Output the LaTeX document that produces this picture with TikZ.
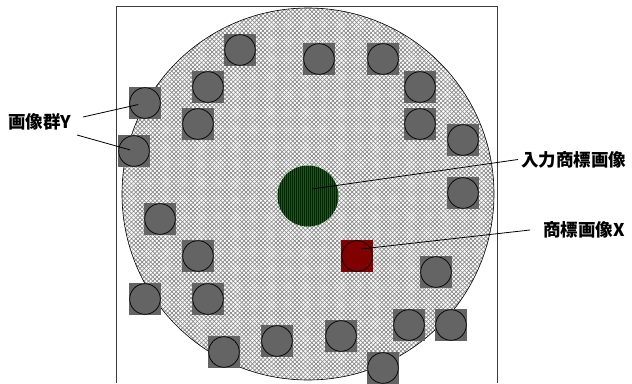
\documentclass[tikz,border=0pt]{standalone}
\usepackage{fontspec}
\newfontfamily\jpfont{Noto Sans CJK JP}
\usetikzlibrary{patterns.meta}
\definecolor{itemgray}{RGB}{100,100,100}
\definecolor{hatchgray}{RGB}{135,135,135}
\definecolor{logogreen}{RGB}{0,105,0}
\definecolor{stripegreen}{RGB}{0,40,0}
\definecolor{logored}{RGB}{128,0,0}
\definecolor{framegray}{RGB}{60,60,60}

\tikzset{
    item/.style={
        rectangle, fill=itemgray, minimum size=32pt, inner sep=0pt,
        path picture={\draw[line width=0.7pt, fill=itemgray]
            (path picture bounding box.center) circle (15.3pt);}
    },
    txt/.style={
        anchor=west, inner sep=0pt,
        font=\jpfont\bfseries\fontsize{17.5}{20}\selectfont
    },
    leader/.style={
        line width=0.8pt, black
    }
}

\begin{document}
\begin{tikzpicture}[x=1pt, y=-1pt]

\useasboundingbox (0,0) rectangle (632,383);

% Rahmen
\draw[
    line width=0.9pt,
    framegray
] (116,383) -- (116,6) -- (497,6) -- (497,383);

% Kreisflaeche
\fill[white] (308,194) circle (186pt);
\path[
    pattern={Lines[angle=45, distance=3pt, line width=0.7pt]},
    pattern color=hatchgray
] (308,194) circle (186pt);
\path[
    pattern={Lines[angle=-45, distance=3pt, line width=0.7pt]},
    pattern color=hatchgray
] (308,194) circle (186pt);
\draw[
    line width=0.6pt
] (308,194) circle (186pt);

% Bildgruppe
\node[item] (c1)  at (240,50)  {};
\node[item] (c2)  at (319,59)  {};
\node[item] (c3)  at (383,59)  {};
\node[item] (c4)  at (208,87)  {};
\node[item] (c5)  at (420,87)  {};
\node[item] (c6)  at (145,103) {};
\node[item] (c7)  at (198,124) {};
\node[item] (c8)  at (420,124) {};
\node[item] (c9)  at (463,140) {};
\node[item] (c10) at (134,151) {};
\node[item] (c11) at (463,193) {};
\node[item] (c12) at (160,219) {};
\node[item] (c13) at (198,256) {};
\node[item] (c14) at (436,272) {};
\node[item] (c15) at (145,299) {};
\node[item] (c16) at (208,299) {};
\node[item] (c17) at (409,325) {};
\node[item] (c18) at (451,325) {};
\node[item] (c19) at (341,336) {};
\node[item] (c20) at (277,341) {};
\node[item] (c21) at (224,352) {};
\node[item] (c22) at (383,368) {};

% Eingabe-Markenbild
\node[
    circle, minimum size=61pt, inner sep=0pt,
    fill=logogreen,
    path picture={
        \foreach \s in {-30,-28,...,30}
            \draw[line width=0.6pt, stripegreen]
                ([xshift=\s pt]path picture bounding box.north)
                -- ([xshift=\s pt]path picture bounding box.south);
    }
] (input) at (308,196) {};

% Markenbild X
\node[
    rectangle, fill=logored, minimum size=32pt, inner sep=0pt,
    path picture={\draw[line width=0.7pt, fill=logored]
        (path picture bounding box.center) circle (15.3pt);}
] (markx) at (357,256) {};

% Beschriftungen
\node[txt] (lblY)     at (8,122)     {画像群Y};
\node[txt] (lblInput) at (521,159.5) {入力商標画像};
\node[txt] (lblX)     at (543,230)   {商標画像X};

\coordinate (yStartA) at (83,117);
\coordinate (yStartB) at (77,135);
\coordinate (inEnd)   at (312,189);
\coordinate (xEnd)    at (361,249);

% Linien
\draw[leader, shorten >=7pt] (yStartA) -- (c6.center);
\draw[leader, shorten >=4pt] (yStartB) -- (c10.center);
\draw[leader] ([xshift=-3pt]lblInput.west) -- (inEnd);
\draw[leader] ([xshift=-13pt]lblX.west) -- (xEnd);

\end{tikzpicture}
\end{document}
